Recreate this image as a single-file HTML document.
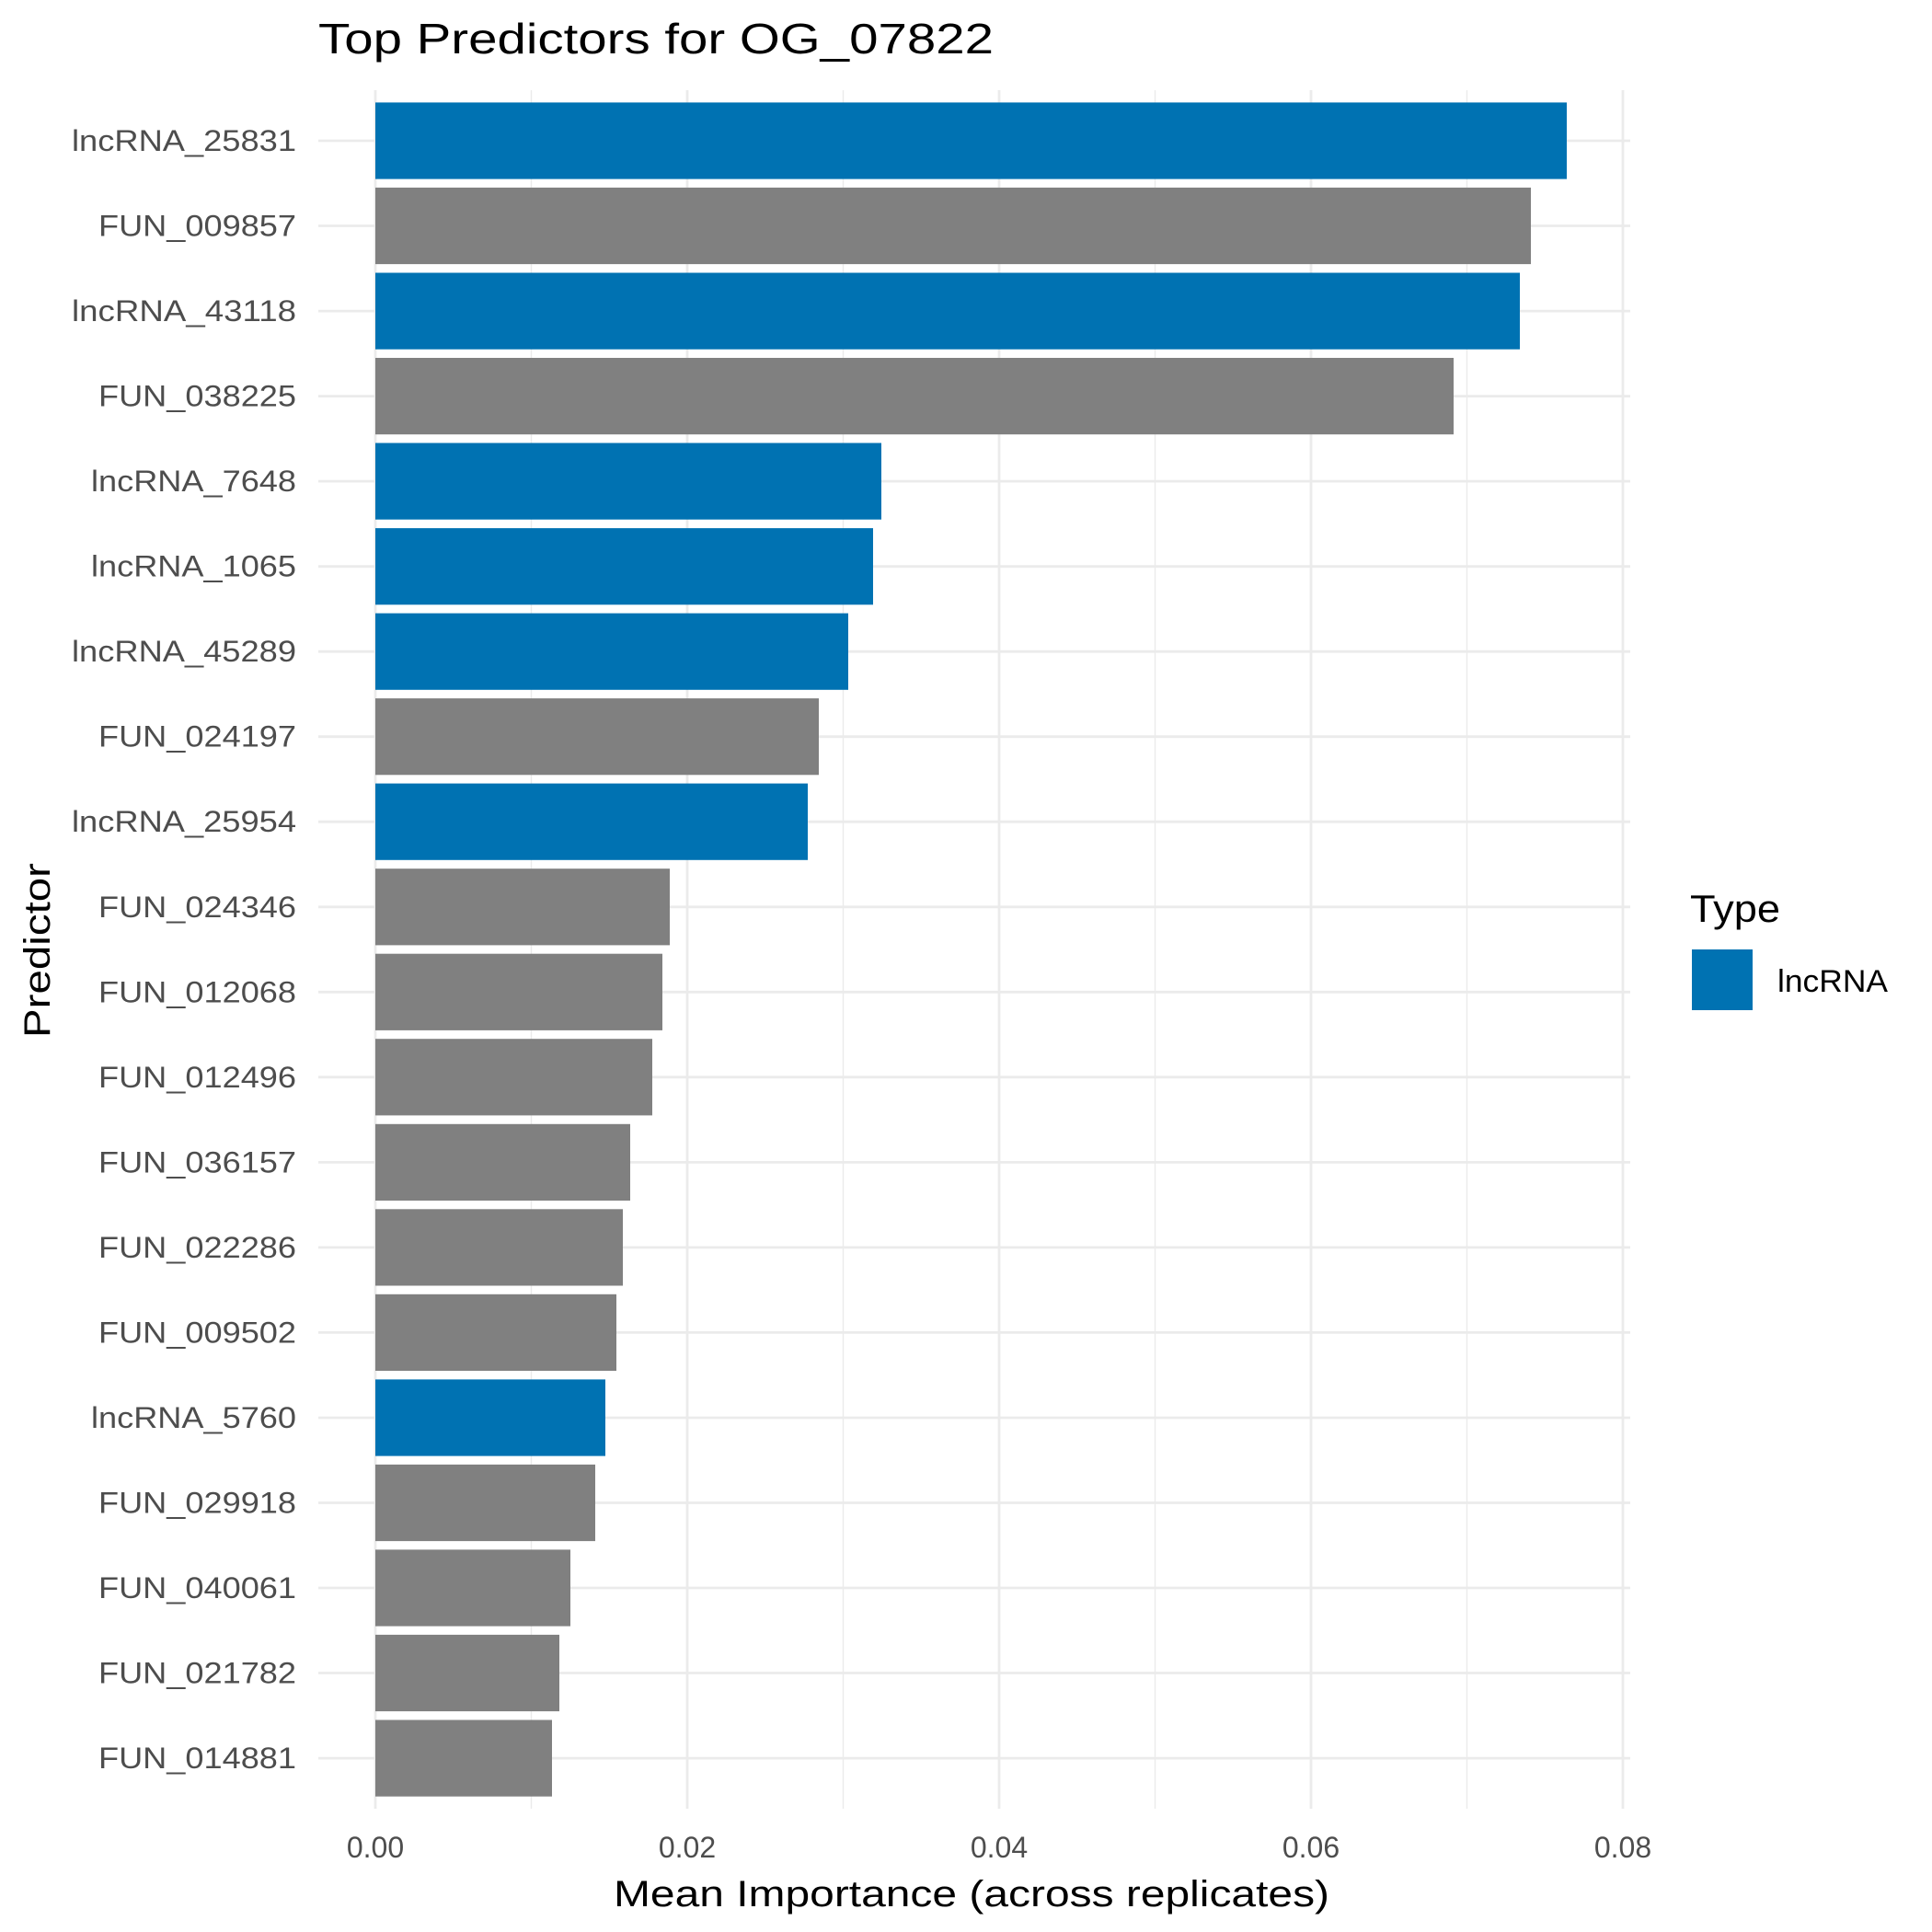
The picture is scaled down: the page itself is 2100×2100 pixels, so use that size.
<!DOCTYPE html>
<html><head><meta charset="utf-8"><style>body{margin:0;background:#fff}svg{display:block}</style></head>
<body>
<svg width="2100" height="2100" xmlns="http://www.w3.org/2000/svg" font-family="'Liberation Sans', 'DejaVu Sans', sans-serif">
<rect width="2100" height="2100" fill="#fff"/>
<g stroke="#ebebeb">
<g stroke-width="1.4">
<line x1="577.5" y1="98" x2="577.5" y2="1966"/><line x1="916.5" y1="98" x2="916.5" y2="1966"/><line x1="1255.5" y1="98" x2="1255.5" y2="1966"/><line x1="1594.5" y1="98" x2="1594.5" y2="1966"/>
</g>
<g stroke-width="2.8">
<line x1="408" y1="98" x2="408" y2="1966"/><line x1="747" y1="98" x2="747" y2="1966"/><line x1="1086" y1="98" x2="1086" y2="1966"/><line x1="1425" y1="98" x2="1425" y2="1966"/><line x1="1764" y1="98" x2="1764" y2="1966"/>
<line x1="346" y1="153.0" x2="1772" y2="153.0"/>
<line x1="346" y1="245.5" x2="1772" y2="245.5"/>
<line x1="346" y1="338.1" x2="1772" y2="338.1"/>
<line x1="346" y1="430.6" x2="1772" y2="430.6"/>
<line x1="346" y1="523.1" x2="1772" y2="523.1"/>
<line x1="346" y1="615.7" x2="1772" y2="615.7"/>
<line x1="346" y1="708.2" x2="1772" y2="708.2"/>
<line x1="346" y1="800.7" x2="1772" y2="800.7"/>
<line x1="346" y1="893.2" x2="1772" y2="893.2"/>
<line x1="346" y1="985.8" x2="1772" y2="985.8"/>
<line x1="346" y1="1078.3" x2="1772" y2="1078.3"/>
<line x1="346" y1="1170.8" x2="1772" y2="1170.8"/>
<line x1="346" y1="1263.4" x2="1772" y2="1263.4"/>
<line x1="346" y1="1355.9" x2="1772" y2="1355.9"/>
<line x1="346" y1="1448.4" x2="1772" y2="1448.4"/>
<line x1="346" y1="1541.0" x2="1772" y2="1541.0"/>
<line x1="346" y1="1633.5" x2="1772" y2="1633.5"/>
<line x1="346" y1="1726.0" x2="1772" y2="1726.0"/>
<line x1="346" y1="1818.5" x2="1772" y2="1818.5"/>
<line x1="346" y1="1911.1" x2="1772" y2="1911.1"/>
</g>
</g>
<g>
<rect x="408" y="111.4" width="1295" height="83.2" fill="#0072B2"/>
<rect x="408" y="203.9" width="1256" height="83.2" fill="#808080"/>
<rect x="408" y="296.5" width="1244" height="83.2" fill="#0072B2"/>
<rect x="408" y="389.0" width="1172" height="83.2" fill="#808080"/>
<rect x="408" y="481.5" width="550" height="83.2" fill="#0072B2"/>
<rect x="408" y="574.1" width="541" height="83.2" fill="#0072B2"/>
<rect x="408" y="666.6" width="514" height="83.2" fill="#0072B2"/>
<rect x="408" y="759.1" width="482" height="83.2" fill="#808080"/>
<rect x="408" y="851.6" width="470" height="83.2" fill="#0072B2"/>
<rect x="408" y="944.2" width="320" height="83.2" fill="#808080"/>
<rect x="408" y="1036.7" width="312" height="83.2" fill="#808080"/>
<rect x="408" y="1129.2" width="301" height="83.2" fill="#808080"/>
<rect x="408" y="1221.8" width="277" height="83.2" fill="#808080"/>
<rect x="408" y="1314.3" width="269" height="83.2" fill="#808080"/>
<rect x="408" y="1406.8" width="262" height="83.2" fill="#808080"/>
<rect x="408" y="1499.4" width="250" height="83.2" fill="#0072B2"/>
<rect x="408" y="1591.9" width="239" height="83.2" fill="#808080"/>
<rect x="408" y="1684.4" width="212" height="83.2" fill="#808080"/>
<rect x="408" y="1776.9" width="200" height="83.2" fill="#808080"/>
<rect x="408" y="1869.5" width="192" height="83.2" fill="#808080"/>
</g>
<g font-size="32" fill="#4d4d4d" text-anchor="end" lengthAdjust="spacingAndGlyphs">
<text x="322" y="164.0" textLength="244" lengthAdjust="spacingAndGlyphs">lncRNA_25831</text>
<text x="322" y="256.5" textLength="215" lengthAdjust="spacingAndGlyphs">FUN_009857</text>
<text x="322" y="349.1" textLength="244" lengthAdjust="spacingAndGlyphs">lncRNA_43118</text>
<text x="322" y="441.6" textLength="215" lengthAdjust="spacingAndGlyphs">FUN_038225</text>
<text x="322" y="534.1" textLength="223" lengthAdjust="spacingAndGlyphs">lncRNA_7648</text>
<text x="322" y="626.7" textLength="223" lengthAdjust="spacingAndGlyphs">lncRNA_1065</text>
<text x="322" y="719.2" textLength="244" lengthAdjust="spacingAndGlyphs">lncRNA_45289</text>
<text x="322" y="811.7" textLength="215" lengthAdjust="spacingAndGlyphs">FUN_024197</text>
<text x="322" y="904.2" textLength="244" lengthAdjust="spacingAndGlyphs">lncRNA_25954</text>
<text x="322" y="996.8" textLength="215" lengthAdjust="spacingAndGlyphs">FUN_024346</text>
<text x="322" y="1089.3" textLength="215" lengthAdjust="spacingAndGlyphs">FUN_012068</text>
<text x="322" y="1181.8" textLength="215" lengthAdjust="spacingAndGlyphs">FUN_012496</text>
<text x="322" y="1274.4" textLength="215" lengthAdjust="spacingAndGlyphs">FUN_036157</text>
<text x="322" y="1366.9" textLength="215" lengthAdjust="spacingAndGlyphs">FUN_022286</text>
<text x="322" y="1459.4" textLength="215" lengthAdjust="spacingAndGlyphs">FUN_009502</text>
<text x="322" y="1552.0" textLength="223" lengthAdjust="spacingAndGlyphs">lncRNA_5760</text>
<text x="322" y="1644.5" textLength="215" lengthAdjust="spacingAndGlyphs">FUN_029918</text>
<text x="322" y="1737.0" textLength="215" lengthAdjust="spacingAndGlyphs">FUN_040061</text>
<text x="322" y="1829.5" textLength="215" lengthAdjust="spacingAndGlyphs">FUN_021782</text>
<text x="322" y="1922.1" textLength="215" lengthAdjust="spacingAndGlyphs">FUN_014881</text>
</g>
<g font-size="32" fill="#4d4d4d" text-anchor="middle">
<text x="408" y="2019">0.00</text><text x="747" y="2019">0.02</text><text x="1086" y="2019">0.04</text><text x="1425" y="2019">0.06</text><text x="1764" y="2019">0.08</text>
</g>
<text x="346" y="58" font-size="46" fill="#000" textLength="734" lengthAdjust="spacingAndGlyphs">Top Predictors for OG_07822</text>
<text x="1056" y="2072" font-size="40" fill="#000" text-anchor="middle" textLength="778" lengthAdjust="spacingAndGlyphs">Mean Importance (across replicates)</text>
<text transform="translate(54,1033) rotate(-90)" font-size="40" fill="#000" text-anchor="middle" textLength="190" lengthAdjust="spacingAndGlyphs">Predictor</text>
<text x="1837" y="1002" font-size="42" fill="#000" textLength="98" lengthAdjust="spacingAndGlyphs">Type</text>
<rect x="1839" y="1032" width="66" height="66" fill="#0072B2"/>
<text x="1932" y="1078" font-size="34" fill="#000" textLength="120" lengthAdjust="spacingAndGlyphs">lncRNA</text>
</svg>
</body></html>
